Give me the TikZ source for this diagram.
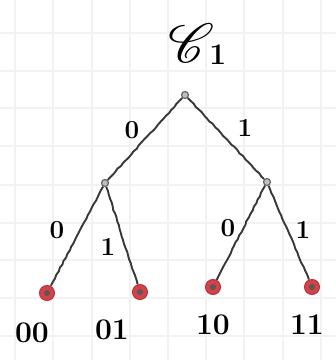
\documentclass[tikz,border=0pt]{standalone}
\usepackage{mathrsfs}
\usepackage{graphicx}
\usetikzlibrary{decorations.pathmorphing}
\definecolor{leafred}{RGB}{214,64,72}
\begin{document}
\begin{tikzpicture}[x=1pt,y=-1pt,
  gridline/.style={draw=black!5,line width=1.4pt},
  edge/.style={draw=black!78,line width=1.9pt,decorate,decoration={random steps,segment length=4pt,amplitude=0.5pt}},
  inner/.style={circle,draw=black!60,fill=black!25,line width=1.2pt,minimum size=7pt,inner sep=0pt},
  leaf/.style={circle,draw=leafred!85!black,fill=leafred,line width=1pt,minimum size=15pt,inner sep=0pt,
    path picture={\fill[black!65] (path picture bounding box.center) circle (3pt);}},
  bit/.style={font=\fontsize{26}{26}\selectfont\bfseries,inner sep=0pt},
  code/.style={font=\fontsize{30}{30}\selectfont\bfseries,inner sep=0pt}]
\useasboundingbox (0,0) rectangle (336,360);
\fill[white] (0,0) rectangle (336,360);
\foreach \gx in {15,53,92,130,168,206,244,283,321}
  \draw[gridline] (\gx,0) -- (\gx,360);
\foreach \gy in {33,71,108,146,185,223,260,298,336}
  \draw[gridline] (0,\gy) -- (336,\gy);
\node[inner sep=0pt] (title) at (191,43) {\scalebox{5.5}{$\mathscr{C}$}};
\node[font=\fontsize{30}{30}\selectfont\bfseries,inner sep=0pt,anchor=west] (titlesub) at (title.east) [xshift=-5pt,yshift=-12pt] {1};
\node[inner] (r) at (185,95) {};
\node[inner] (a) at (105,183) {};
\node[inner] (b) at (267,182) {};
\node[leaf] (l00) at (47,293) {};
\node[leaf] (l01) at (140,292) {};
\node[leaf] (l10) at (213,287) {};
\node[leaf] (l11) at (312,287) {};
\draw[edge] (r) -- (a);
\draw[edge] (r) -- (b);
\draw[edge] (a) -- (l00);
\draw[edge] (a) -- (l01);
\draw[edge] (b) -- (l10);
\draw[edge] (b) -- (l11);
\node[bit] (e1) at (132,130) {0};
\node[bit] (e2) at (245,128) {1};
\node[bit] (e3) at (57,230) {0};
\node[bit] (e4) at (108,247) {1};
\node[bit] (e5) at (228,228) {0};
\node[bit] (e6) at (303,230) {1};
\node[code] (c00) at (32,333) {00};
\node[code] (c01) at (112,330) {01};
\node[code] (c10) at (213,325) {10};
\node[code] (c11) at (307,325) {11};
\end{tikzpicture}
\end{document}
